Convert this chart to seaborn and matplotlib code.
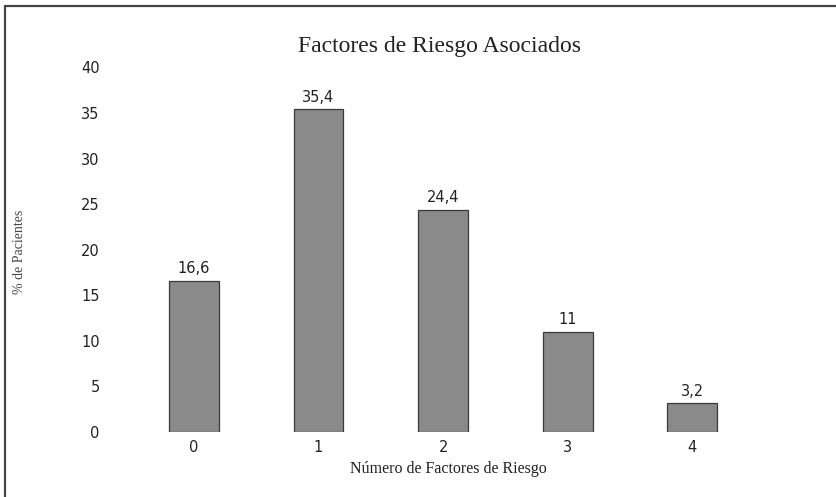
import matplotlib
matplotlib.use("Agg")
import matplotlib.pyplot as plt
from matplotlib.lines import Line2D
import seaborn as sns
import pandas as pd

# Number of associated risk factors vs. share of patients
factores = ["0", "1", "2", "3", "4"]
porcentajes = [16.6, 35.4, 24.4, 11.0, 3.2]
etiquetas = ["16,6", "35,4", "24,4", "11", "3,2"]
ticks_y = [0, 5, 10, 15, 20, 25, 30, 35, 40]

sns.set_theme(style="white")
narrow = ["Liberation Sans Narrow", "DejaVu Sans"]
serif = ["Liberation Serif", "DejaVu Serif"]

df = pd.DataFrame({"factores": factores, "pct": porcentajes})

fig = plt.figure(figsize=(8.36, 4.97), dpi=100)
ax = fig.add_axes([0.126, 0.131, 0.82, 0.77])

sns.barplot(data=df, x="factores", y="pct", order=factores, ax=ax,
            color="#8a8a8a", width=0.4, edgecolor="#3a3a3a", linewidth=0.9,
            saturation=1)

for patch, txt in zip(ax.patches, etiquetas):
    ax.annotate(txt, (patch.get_x() + patch.get_width() / 2, patch.get_height()),
                xytext=(0, 3), textcoords="offset points", ha="center", va="bottom",
                fontsize=10.5, family=narrow, color="#222222")

ax.set_ylim(0, 42)
ax.set_xlim(-0.71, 4.79)
ax.set_yticks(ticks_y)
ax.set_yticklabels([str(t) for t in ticks_y], family=narrow, fontsize=10.5, color="#222222")
ax.set_xticks(range(len(factores)))
ax.set_xticklabels(factores, family=narrow, fontsize=10.5, color="#222222")
ax.tick_params(axis="both", length=0, pad=6)
ax.tick_params(axis="y", pad=4)
for s in ax.spines.values():
    s.set_visible(False)

ax.set_xlabel("Número de Factores de Riesgo", family=serif, fontsize=11.5, color="#222222", labelpad=4)
ax.set_ylabel("")
fig.text(20 / 836, 1 - 252 / 497, "% de Pacientes", rotation=90, ha="center", va="center",
         family=serif, fontsize=10, color="#444444")
fig.text(0.526, 0.885, "Factores de Riesgo Asociados", ha="center", va="bottom",
         family=serif, fontsize=17, color="#222222")

# frame lines along the top and left edges of the figure
fig.add_artist(Line2D([5 / 836, 1.0], [1 - 6 / 497, 1 - 6 / 497], color="#444444", lw=1.6))
fig.add_artist(Line2D([5 / 836, 5 / 836], [0.0, 1 - 6 / 497], color="#444444", lw=1.6))

fig.savefig("out.png", dpi=100)
